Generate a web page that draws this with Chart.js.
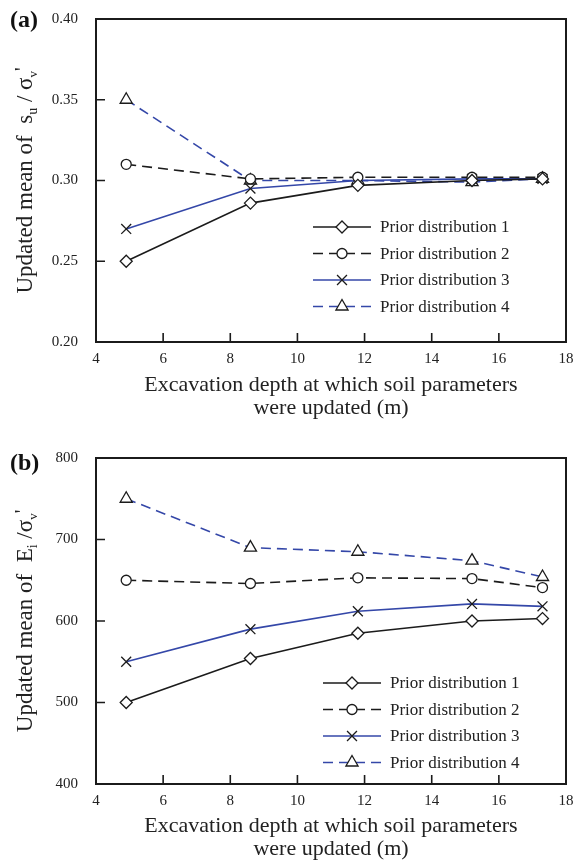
<!DOCTYPE html>
<html>
<head>
<meta charset="utf-8">
<title>Updated soil parameters</title>
<script src="https://cdn.jsdelivr.net/npm/chart.js@4/dist/chart.umd.min.js"></script>
<style>
  html, body { margin: 0; padding: 0; background: #fff; }
  canvas { display: block; }
</style>
</head>
<body>
<canvas id="chart-a" width="582" height="420"></canvas>
<canvas id="chart-b" width="582" height="441"></canvas>
<script>
// excavation depths (m) at which the parameters were updated
const depths = [4.9, 8.6, 11.8, 15.2, 17.3];
const priorNames = ['Prior distribution 1', 'Prior distribution 2', 'Prior distribution 3', 'Prior distribution 4'];

// (a) updated mean of su / sigma'v
const suPrior1 = [0.250, 0.286, 0.297, 0.300, 0.301];
const suPrior2 = [0.310, 0.301, 0.302, 0.302, 0.302];
const suPrior3 = [0.270, 0.295, 0.300, 0.301, 0.301];
const suPrior4 = [0.350, 0.300, 0.300, 0.299, 0.301];

// (b) updated mean of Ei / sigma'v
const eiPrior1 = [500, 554, 585, 600, 603];
const eiPrior2 = [650, 646, 653, 652, 641];
const eiPrior3 = [550, 590, 612, 621, 618];
const eiPrior4 = [750, 690, 685, 674, 654];

const depthTicks = [4, 6, 8, 10, 12, 14, 16, 18];
const suTicks = [0.20, 0.25, 0.30, 0.35, 0.40];
const eiTicks = [400, 500, 600, 700, 800];

const BLACK = '#1b1b1b';
const BLUE = '#3447a8';
const SERIF = '"Liberation Serif", "Times New Roman", serif';

const lineStyles = [
  { color: BLACK, dash: [], point: 'rectRot', radius: 6 },
  { color: BLACK, dash: [10, 6], point: 'circle', radius: 5 },
  { color: BLUE, dash: [], point: 'crossRot', radius: 7 },
  { color: BLUE, dash: [10, 6], point: 'triangle', radius: 7 }
];

function makeDatasets(seriesList) {
  return seriesList.map((vals, i) => {
    const st = lineStyles[i];
    return {
      label: priorNames[i],
      data: vals.map((v, k) => ({ x: depths[k], y: v })),
      borderColor: st.color,
      borderWidth: 1.6,
      borderDash: st.dash,
      pointStyle: st.point,
      pointRadius: st.radius,
      pointBackgroundColor: '#fff',
      pointBorderColor: BLACK,
      pointBorderWidth: 1.3,
      showLine: true,
      tension: 0
    };
  });
}

// frame, inward ticks, legend, rotated y title with subscripts, panel letter
const decorPlugin = {
  id: 'decor',
  afterDraw(chart, args, opts) {
    const ctx = chart.ctx;
    const a = chart.chartArea;
    const xs = chart.scales.x, ys = chart.scales.y;
    ctx.save();
    ctx.strokeStyle = BLACK;
    ctx.setLineDash([]);

    // inward tick marks
    ctx.lineWidth = 1.6;
    ctx.beginPath();
    xs.ticks.forEach(t => {
      const px = xs.getPixelForValue(t.value);
      ctx.moveTo(px, a.bottom);
      ctx.lineTo(px, a.bottom - 9);
    });
    ys.ticks.forEach(t => {
      const py = ys.getPixelForValue(t.value);
      ctx.moveTo(a.left, py);
      ctx.lineTo(a.left + 9, py);
    });
    ctx.stroke();

    // plot frame
    ctx.lineWidth = 2;
    ctx.strokeRect(a.left, a.top, a.right - a.left, a.bottom - a.top);

    // legend: line sample with its marker, then name
    chart.data.datasets.forEach((ds, i) => {
      const y = opts.legendY + i * 26.5;
      ctx.strokeStyle = ds.borderColor;
      ctx.lineWidth = 1.6;
      ctx.setLineDash(ds.borderDash);
      ctx.beginPath();
      ctx.moveTo(opts.legendX, y);
      ctx.lineTo(opts.legendX + 58, y);
      ctx.stroke();
      ctx.setLineDash([]);
      ctx.fillStyle = '#fff';
      ctx.strokeStyle = BLACK;
      ctx.lineWidth = 1.3;
      Chart.helpers.drawPoint(ctx, { pointStyle: ds.pointStyle, radius: ds.pointRadius, rotation: 0, borderWidth: 1.3 }, opts.legendX + 29, y);
      ctx.fillStyle = '#222';
      ctx.font = '17px ' + SERIF;
      ctx.textAlign = 'left';
      ctx.textBaseline = 'middle';
      ctx.fillText(ds.label, opts.legendX + 67, y + 1);
    });

    // rotated y title built from pieces: [text, size, shift]
    const parts = opts.yTitle;
    ctx.textBaseline = 'alphabetic';
    ctx.textAlign = 'left';
    let total = 0;
    parts.forEach(p => {
      ctx.font = p[1] + 'px ' + SERIF;
      total += ctx.measureText(p[0]).width;
    });
    ctx.translate(opts.yTitleX, (a.top + a.bottom) / 2);
    ctx.rotate(-Math.PI / 2);
    ctx.fillStyle = '#222';
    let cx = -total / 2;
    parts.forEach(p => {
      ctx.font = p[1] + 'px ' + SERIF;
      ctx.fillText(p[0], cx, 7 + p[2]);
      cx += ctx.measureText(p[0]).width;
    });
    ctx.setTransform(1, 0, 0, 1, 0, 0);

    // panel letter
    ctx.fillStyle = '#111';
    ctx.font = 'bold 24px ' + SERIF;
    ctx.textAlign = 'left';
    ctx.fillText(opts.panel, 10, opts.panelY);
    ctx.restore();
  }
};

function makeChart(id, seriesList, yTicks, yMin, yMax, digits, decor) {
  return new Chart(document.getElementById(id), {
    type: 'scatter',
    data: { datasets: makeDatasets(seriesList) },
    options: {
      responsive: false,
      animation: false,
      layout: { padding: { top: decor.top, right: 16, left: 0, bottom: 0 } },
      plugins: { legend: { display: false }, tooltip: { enabled: false }, decor: decor },
      scales: {
        x: {
          type: 'linear', min: 4, max: 18,
          afterBuildTicks: s => { s.ticks = depthTicks.map(v => ({ value: v })); },
          afterFit: s => { s.height = decor.xHeight; },
          grid: { display: false },
          border: { display: false },
          ticks: { padding: 0, color: '#222', font: { family: SERIF, size: 15 } },
          title: {
            display: true,
            text: ['Excavation depth at which soil parameters', 'were updated (m)'],
            color: '#222',
            font: { family: SERIF, size: 22, lineHeight: 1.02 },
            padding: { top: 0, bottom: 1 }
          }
        },
        y: {
          type: 'linear', min: yMin, max: yMax,
          afterBuildTicks: s => { s.ticks = yTicks.map(v => ({ value: v })); },
          afterFit: s => { s.width = 96; },
          grid: { display: false },
          border: { display: false },
          ticks: {
            padding: 10, color: '#222', font: { family: SERIF, size: 15 },
            callback: v => v.toFixed(digits)
          }
        }
      }
    },
    plugins: [decorPlugin]
  });
}

makeChart('chart-a', [suPrior1, suPrior2, suPrior3, suPrior4], suTicks, 0.2, 0.4, 2, {
  top: 15, xHeight: 78, legendX: 313, legendY: 227, yTitleX: 25, panel: '(a)', panelY: 27,
  yTitle: [['Updated mean of  s', 23, 0], ['u', 14, 5], [' / \u03c3', 23, 0], ['v', 13, 5], ['\'', 20, -3]]
});

makeChart('chart-b', [eiPrior1, eiPrior2, eiPrior3, eiPrior4], eiTicks, 400, 800, 0, {
  top: 38, xHeight: 77, legendX: 323, legendY: 263, yTitleX: 25, panel: '(b)', panelY: 50,
  yTitle: [['Updated mean of  E', 23, 0], ['i', 14, 5], [' /\u03c3', 23, 0], ['v', 13, 5], ['\'', 20, -3]]
});
</script>
</body>
</html>
